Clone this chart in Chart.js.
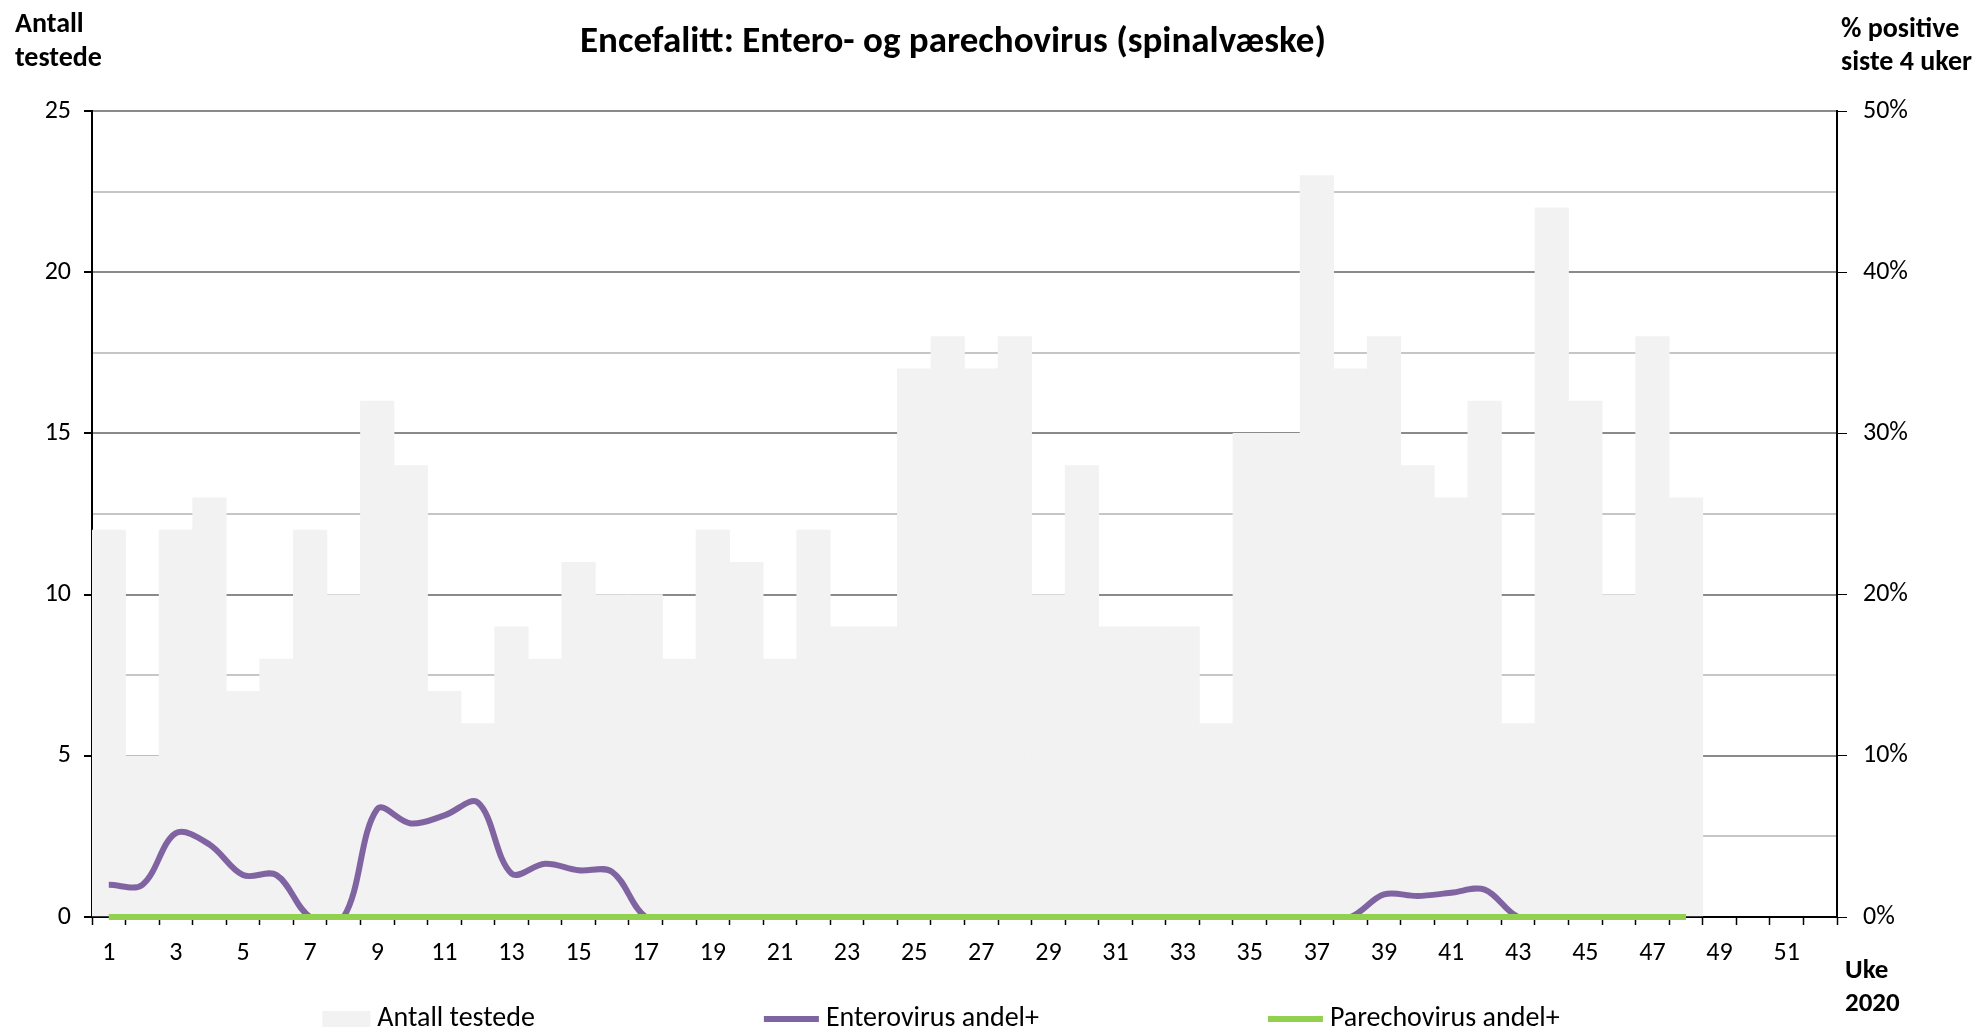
<!DOCTYPE html>
<html>
<head>
<meta charset="utf-8">
<script src="https://cdn.jsdelivr.net/npm/chart.js@4.4.1/dist/chart.umd.min.js"></script>
<style>
  html, body { margin: 0; padding: 0; background: #fff; }
</style>
</head>
<body>
<canvas id="chart" width="1980" height="1030"></canvas>
<script>
// week numbers on the x axis
const weeks = ["1", "2", "3", "4", "5", "6", "7", "8", "9", "10", "11", "12", "13",
  "14", "15", "16", "17", "18", "19", "20", "21", "22", "23", "24", "25", "26",
  "27", "28", "29", "30", "31", "32", "33", "34", "35", "36", "37", "38", "39",
  "40", "41", "42", "43", "44", "45", "46", "47", "48", "49", "50", "51", "52"];

// number tested per week (left axis)
const testede = [12, 5, 12, 13, 7, 8, 12, 10, 16, 14, 7, 6, 9, 8, 11, 10, 10, 8,
  12, 11, 8, 12, 9, 9, 17, 18, 17, 18, 10, 14, 9, 9, 9, 6, 15, 15, 23, 17, 18,
  14, 13, 16, 6, 22, 16, 10, 18, 13, null, null, null, null];

// % positive last 4 weeks (right axis)
const entero = [2.0, 2.0, 5.2, 4.5, 2.6, 2.6, 0, 0, 6.7, 5.8, 6.3, 7.1, 2.7, 3.3,
  2.9, 2.8, 0, 0, 0, 0, 0, 0, 0, 0, 0, 0, 0, 0, 0, 0, 0, 0, 0, 0, 0, 0, 0, 0,
  1.4, 1.3, 1.5, 1.7, 0, 0, 0, 0, 0, 0];
const parecho = [0, 0, 0, 0, 0, 0, 0, 0, 0, 0, 0, 0, 0, 0, 0, 0, 0, 0, 0, 0, 0, 0,
  0, 0, 0, 0, 0, 0, 0, 0, 0, 0, 0, 0, 0, 0, 0, 0, 0, 0, 0, 0, 0, 0, 0, 0, 0, 0];

const leftTicks = [0, 5, 10, 15, 20, 25];
const rightTicks = [0, 10, 20, 30, 40, 50];

const FONT = "Carlito, Calibri, Lato, 'Open Sans', sans-serif";
const title = "Encefalitt: Entero- og parechovirus (spinalvæske)";

Chart.defaults.font.family = FONT;
Chart.defaults.color = "#000";

// titles, axis captions and the bottom legend
const annotations = {
  id: "annotations",
  afterDraw(chart) {
    const c = chart.ctx;
    c.save();
    c.fillStyle = "#000";
    c.textBaseline = "middle";
    c.font = `bold 37px ${FONT}`;
    c.textAlign = "center";
    c.fillText(title, 953, 43);

    c.font = `bold 28px ${FONT}`;
    c.textAlign = "left";
    c.fillText("Antall", 15, 25);
    c.fillText("testede", 15, 59);
    c.fillText("% positive", 1841, 30);
    c.fillText("siste 4 uker", 1841, 63);
    c.font = `bold 27px ${FONT}`;
    c.fillText("Uke", 1845, 971);
    c.fillText("2020", 1845, 1004);

    // legend, items spaced like the excel one
    c.font = `28px ${FONT}`;
    const gap = 7, spacing = 229, y = 1019;
    const items = chart.data.datasets.map(ds => {
      const sw = ds.type === "bar" ? 48 : 55;
      return { ds, sw, w: sw + gap + c.measureText(ds.label).width };
    });
    const total = items.reduce((a, it) => a + it.w, 0) + spacing * (items.length - 1);
    let x = 941 - total / 2;
    items.forEach(it => {
      if (it.ds.type === "bar") {
        c.fillStyle = it.ds.backgroundColor;
        c.fillRect(x, y - 8, it.sw, 16);
      } else {
        c.strokeStyle = it.ds.borderColor;
        c.lineWidth = it.ds.borderWidth;
        c.beginPath();
        c.moveTo(x, y);
        c.lineTo(x + it.sw, y);
        c.stroke();
      }
      c.fillStyle = "#000";
      c.fillText(it.ds.label, x + it.sw + gap, y);
      x += it.w + spacing;
    });
    c.restore();
  }
};

new Chart(document.getElementById("chart"), {
  type: "bar",
  data: {
    labels: weeks,
    datasets: [
      {
        type: "bar",
        label: "Antall testede",
        data: testede,
        backgroundColor: "#f2f2f2",
        categoryPercentage: 1,
        barPercentage: 1,
        yAxisID: "y",
        order: 3,
      },
      {
        type: "line",
        label: "Enterovirus andel+",
        data: entero,
        borderColor: "#8064a2",
        borderWidth: 6,
        pointRadius: 0,
        tension: 0.35,
        clip: false,
        yAxisID: "y2",
        order: 2,
      },
      {
        type: "line",
        label: "Parechovirus andel+",
        data: parecho,
        borderColor: "#92d050",
        borderWidth: 6,
        pointRadius: 0,
        clip: false,
        yAxisID: "y2",
        order: 1,
      },
    ],
  },
  options: {
    responsive: false,
    animation: false,
    devicePixelRatio: 1,
    layout: { padding: { top: 111, bottom: 63, left: 0, right: 0 } },
    plugins: {
      legend: { display: false },
      tooltip: { enabled: false },
    },
    scales: {
      x: {
        grid: { offset: true, drawOnChartArea: false, tickLength: 8, tickColor: "#000", tickWidth: 1.5 },
        border: { color: "#000", width: 2 },
        ticks: {
          autoSkip: false,
          maxRotation: 0,
          padding: 13,
          font: { size: 26 },
          callback: (v, i) => (i % 2 === 0 ? weeks[i] : ""),
        },
        afterFit: s => { s.height = 50; },
      },
      y: {
        position: "left",
        min: 0,
        max: 25,
        ticks: {
          stepSize: 2.5,
          padding: 13,
          font: { size: 26 },
          callback: v => (leftTicks.includes(v) ? v : ""),
        },
        grid: {
          lineWidth: 2,
          color: ctx => (ctx.tick && ctx.tick.value % 5 === 0 ? "#8a8a8a" : "#c6c6c6"),
          tickColor: ctx => (ctx.tick && ctx.tick.value % 5 === 0 ? "#000" : "rgba(0,0,0,0)"),
          tickLength: 8,
        },
        border: { color: "#000", width: 2 },
        afterFit: s => { s.width = 92; },
      },
      y2: {
        position: "right",
        min: 0,
        max: 50,
        ticks: {
          stepSize: 10,
          padding: 16,
          font: { size: 26 },
          callback: v => (rightTicks.includes(v) ? v + "%" : ""),
        },
        grid: { drawOnChartArea: false, tickLength: 10, tickColor: "#000" },
        border: { color: "#000", width: 2 },
        afterFit: s => { s.width = 143; },
      },
    },
  },
  plugins: [annotations],
});
</script>
</body>
</html>
